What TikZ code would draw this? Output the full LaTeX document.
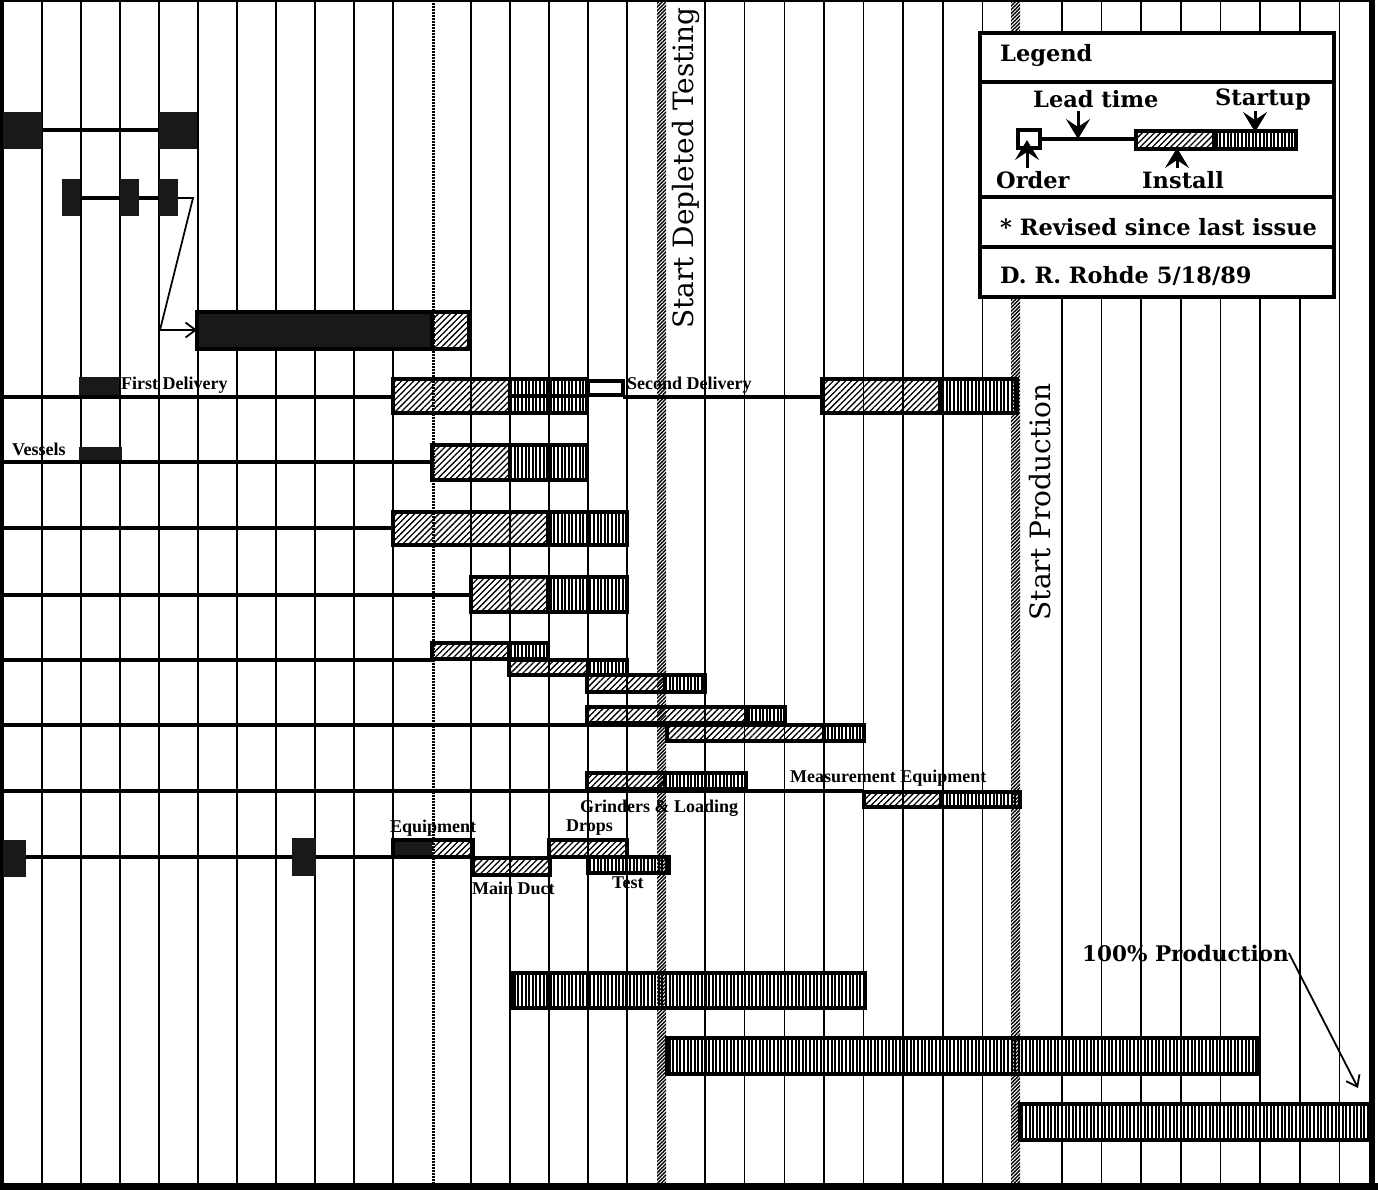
\documentclass[tikz,border=0pt]{standalone}
\usepackage{fontspec}
\newfontfamily\legendfont{DejaVu Serif}
\newfontfamily\tagfont{Liberation Serif}
\usetikzlibrary{arrows.meta, patterns.meta}

% one bar: left, split, right, top, bottom
\newcommand{\gbar}[5]{%
  \fill[hatch] (#1,#4) rectangle (#2,#5);
  \fill[stripes] (#2,#4) rectangle (#3,#5);
  \draw[frame] (#1,#4) rectangle (#3,#5) (#2,#4) -- (#2,#5);}

\begin{document}
\begin{tikzpicture}[x=1pt, y=-1pt,
    grid/.style={line width=1.6pt},
    lead/.style={line width=3.6pt},
    frame/.style={line width=3.2pt},
    dark/.style={fill=black!90},
    hatch/.style={pattern={Lines[angle=45,distance=4.3pt,line width=1.3pt]}},
    stripes/.style={pattern={Lines[angle=90,distance=3.6pt,line width=2pt]}},
    marker/.style={pattern={Lines[angle=45,distance=2.6pt,line width=1.4pt]}},
    tag/.style={font=\tagfont\bfseries\fontsize{18}{18}\selectfont, anchor=west, inner sep=0pt},
    legtext/.style={font=\legendfont\bfseries\fontsize{22.5}{22.5}\selectfont, anchor=west, inner sep=0pt},
    milestone/.style={font=\legendfont\fontsize{28}{28}\selectfont, rotate=90, inner sep=0pt},
    pointer/.style={line width=1.8pt, -{Straight Barb[length=10pt,width=15pt]}},
    callout/.style={line width=3pt, -{Stealth[length=20pt,width=24pt,inset=8pt]}}
  ]
  \useasboundingbox (0,0) rectangle (1378,1190);

  % grid of weeks
  \foreach \i in {1,2,3,4,5,6,7,8,9,10,12,13,14,15,16}
    \draw[grid] ({3+39*\i},0) -- ({3+39*\i},1183);
  \foreach \j in {0,1,2,3,4,5,6,7,9,10,11,12,13,14,15,16}
    \draw[grid] ({705+39.65*\j},0) -- ({705+39.65*\j},1183);

  % milestone lines
  \draw[line width=3pt, dash pattern=on 2pt off 1pt] (433,0) -- (433,1183);
  \fill[marker] (657,0) rectangle (666,1190);
  \fill[marker] (1011,0) rectangle (1020,1190);

  % frame
  \fill (0,0) rectangle (4,1190);
  \fill (0,0) rectangle (1375,2);
  \fill (1369,0) rectangle (1375,1190);
  \fill (0,1183) rectangle (1378,1190);

  % rows 1-3
  \fill[dark] (3,112) rectangle (42,149);
  \fill[dark] (159,112) rectangle (197,149);
  \draw[lead] (42,130) -- (159,130);

  \fill[dark] (62,179) rectangle (80,216);
  \fill[dark] (120,179) rectangle (139,216);
  \fill[dark] (159,179) rectangle (178,216);
  \draw[lead] (80,198) -- (120,198) (139,198) -- (159,198);
  \coordinate (jump) at (197,330);
  \draw[pointer] (178,198) -- (193,198) -- (160,330) -- (jump);

  \fill[dark] (197,312) rectangle (432,349);
  \fill[hatch] (432,312) rectangle (469,349);
  \draw[frame] (197,312) rectangle (469,349) (432,312) -- (432,349);

  % deliveries
  \draw[lead] (3,397) -- (393,397);
  \fill[dark] (79,377) rectangle (119,395);
  \node[tag] (first) at (121,385) {First Delivery};
  \gbar{393}{510}{587}{379}{413}
  \draw[lead] (510,396) -- (587,396);
  \draw[frame, fill=white] (588,381) rectangle (623,395);
  \draw[lead] (623,397) -- (822,397);
  \node[tag] (second) at (627,385) {Second Delivery};
  \gbar{822}{940}{1017}{379}{413}

  % vessels
  \node[tag] (vessels) at (12,449) {Vessels};
  \fill[dark] (79,447) rectangle (122,463);
  \draw[lead] (3,462) -- (432,462);
  \gbar{432}{510}{587}{445}{480}

  \draw[lead] (3,528) -- (393,528);
  \gbar{393}{548}{627}{512}{545}
  \draw[lead] (3,595) -- (471,595);
  \gbar{471}{548}{627}{577}{612}

  % small steps
  \draw[lead] (3,660) -- (432,660);
  \gbar{432}{509}{548}{643}{659}
  \gbar{509}{588}{627}{660}{675}
  \gbar{587}{665}{705}{675}{692}
  \draw[lead] (3,725) -- (667,725);
  \gbar{587}{746}{785}{707}{723}
  \gbar{667}{824}{864}{725}{741}
  \draw[lead] (3,791) -- (864,791);
  \gbar{587}{665}{746}{773}{789}
  \gbar{864}{941}{1020}{792}{807}
  \node[tag] (measure) at (790,778) {Measurement Equipment};

  % equipment row
  \node[tag] (grinders) at (580,808) {Grinders \& Loading};
  \node[tag] (drops) at (566,828) {Drops};
  \node[tag] (equip) at (390,828) {Equipment};
  \node[tag] (duct) at (472,888) {Main Duct};
  \node[tag] (test) at (612,883) {Test};
  \fill[dark] (3,840) rectangle (26,877);
  \fill[dark] (292,838) rectangle (316,876);
  \draw[lead] (26,857) -- (292,857) (316,857) -- (393,857);
  \fill[dark] (393,840) rectangle (432,857);
  \fill[hatch] (432,840) rectangle (473,857);
  \draw[frame] (393,840) rectangle (473,857);
  \gbar{473}{550}{550}{858}{875}
  \gbar{549}{627}{627}{840}{857}
  \gbar{588}{588}{669}{857}{873}

  % production
  \gbar{513}{513}{865}{973}{1008}
  \gbar{667}{667}{1257}{1038}{1074}
  \gbar{1020}{1020}{1372}{1104}{1140}
  \node[legtext, font=\legendfont\bfseries\fontsize{21.5}{21.5}\selectfont] (full) at (1082,953) {100\% Production};
  \coordinate (fullend) at (1358,1088);
  \draw[pointer] (full.east) -- (fullend);

  \node[milestone] (depleted) at (686,168) {Start Depleted Testing};
  \node[milestone] (production) at (1040,502) {Start Production};

  % legend
  \draw[frame, fill=white] (980,33) rectangle (1334,297);
  \draw[frame] (980,82) -- (1334,82) (980,197) -- (1334,197) (980,247) -- (1334,247);
  \node[legtext] (legend) at (1000,55) {Legend};
  \node[legtext] (leadtime) at (1033,99) {Lead time};
  \node[legtext] (startup) at (1215,99) {Startup};
  \draw[frame, fill=white] (1018,130) rectangle (1040,148);
  \draw[lead] (1040,139) -- (1136,139);
  \gbar{1136}{1214}{1296}{131}{149}
  \node[legtext] (order) at (996,180) {Order};
  \node[legtext] (install) at (1142,180) {Install};
  \draw[callout] (1078,111) -- (1078,139);
  \draw[callout] (1255,111) -- (1255,132);
  \draw[callout] (1027,168) -- (1027,140);
  \draw[callout] (1177,168) -- (1177,148);
  \node[legtext] (revised) at (1000,227) {* Revised since last issue};
  \node[legtext] (author) at (1000,276) {D. R. Rohde 5/18/89};
\end{tikzpicture}
\end{document}
